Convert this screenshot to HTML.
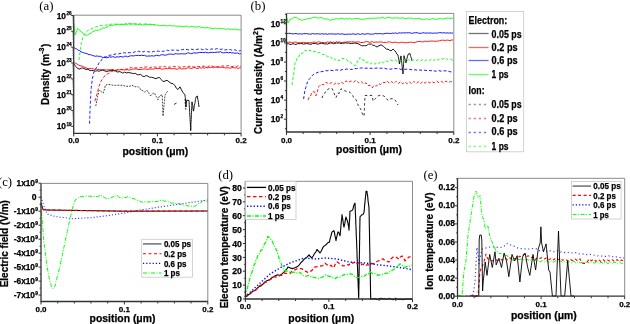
<!DOCTYPE html>
<html><head><meta charset="utf-8"><style>
html,body{margin:0;padding:0;background:#fff;}
svg{display:block;filter:blur(0.3px);} text{stroke:#000;stroke-width:0.25px;} text.s{stroke:none;}
</style></head><body>
<svg width="630" height="324" viewBox="0 0 630 324">
<rect width="630" height="324" fill="#fff"/>

<text class="s" x="46.3" y="10.3" font-family="Liberation Serif" font-size="12.8" font-weight="normal" text-anchor="middle" >(a)</text>
<path d="M73.7,23.0 L73.9,24.4 L74.1,25.5 L74.3,27.9 L74.5,28.8 L74.6,30.4 L74.8,31.8 L75.0,33.7 L75.2,34.8 L75.8,33.1 L76.3,31.8 L76.9,30.4 L77.4,28.4 L78.8,29.7 L80.2,30.4 L81.3,32.1 L82.5,32.4 L83.7,34.4 L84.8,35.0 L87.6,35.1 L89.2,33.8 L90.8,33.5 L92.4,32.0 L94.0,31.2 L95.4,30.4 L96.9,30.2 L98.3,30.3 L99.8,29.8 L101.2,29.1 L102.7,27.8 L104.1,28.3 L105.6,27.7 L107.0,27.1 L108.6,26.0 L110.2,25.5 L111.8,25.3 L113.4,25.3 L115.0,24.6 L116.5,24.7 L118.0,24.1 L119.5,24.4 L121.0,24.5 L122.5,24.6 L124.0,24.5 L125.5,23.9 L127.0,24.5 L128.5,23.8 L130.0,24.3 L131.6,24.1 L133.1,23.8 L134.7,24.3 L136.2,24.3 L137.8,24.8 L139.4,23.9 L140.9,24.1 L142.5,25.0 L144.1,24.9 L145.6,24.3 L147.2,24.4 L148.8,24.8 L150.3,24.5 L151.9,24.7 L153.4,24.5 L155.0,25.2 L156.5,24.7 L158.1,25.6 L159.6,25.7 L161.2,25.6 L162.7,25.7 L164.2,25.3 L165.8,25.7 L167.3,25.9 L168.8,25.7 L170.4,25.3 L171.9,26.0 L173.5,25.7 L175.0,26.1 L176.5,26.0 L178.1,26.6 L179.6,25.9 L181.2,26.6 L182.7,26.6 L184.2,26.5 L185.8,26.1 L187.3,26.3 L188.8,27.2 L190.4,26.5 L191.9,26.5 L193.5,26.7 L195.0,27.0 L196.5,27.1 L198.0,26.7 L199.5,26.8 L201.0,27.4 L202.5,27.2 L204.0,27.7 L205.5,28.0 L207.0,27.4 L208.5,27.9 L210.0,27.9 L211.5,28.4 L213.0,28.7 L214.5,28.2 L216.0,28.1 L217.5,28.9 L219.0,28.1 L220.6,28.5 L222.1,28.7 L223.7,28.6 L225.3,29.2 L226.9,29.1 L228.4,28.9 L230.0,29.2 L231.6,29.6 L233.1,29.3 L234.7,29.2 L236.3,29.7 L237.9,29.5 L239.4,30.0 L241.0,30.0" fill="none" stroke="#00ff00" stroke-width="0.9" stroke-linejoin="round" opacity="1.0"/>
<path d="M79.0,60.0 L79.2,58.3 L79.4,56.7 L79.6,55.8 L79.8,53.9 L80.0,52.3 L80.2,51.0 L80.4,49.7 L80.6,48.1 L80.8,46.7 L81.0,44.8 L81.3,43.4 L81.7,41.9 L82.0,40.5 L82.3,39.1 L82.7,37.6 L83.0,35.7 L84.0,34.7 L85.0,33.8 L86.0,32.0 L87.0,31.4 L88.0,30.1 L89.5,29.4 L91.0,28.9 L92.5,28.2 L94.0,28.0 L95.5,27.2 L97.0,26.5 L98.5,25.8 L100.0,25.5 L101.7,25.7 L103.3,25.3 L105.0,25.1 L106.7,25.1 L108.3,24.2 L110.0,24.5 L111.5,24.1 L113.1,24.2 L114.6,24.0 L116.2,24.1 L117.7,24.5 L119.2,24.3 L120.8,24.4 L122.3,23.7 L123.8,23.8 L125.4,24.2 L126.9,23.5 L128.5,23.6 L130.0,23.5 L131.6,24.1 L133.1,23.7 L134.7,23.9 L136.2,23.6 L137.8,23.7 L139.4,24.1 L140.9,24.4 L142.5,24.1 L144.1,24.1 L145.6,23.9 L147.2,24.0 L148.8,24.1 L150.3,24.2 L151.9,24.6 L153.4,24.4 L155.0,24.6" fill="none" stroke="#00ff00" stroke-width="0.9" stroke-dasharray="3,2" stroke-linejoin="round" opacity="1.0"/>
<path d="M73.7,47.2 L75.2,48.6 L76.6,48.8 L78.1,50.3 L79.5,50.5 L81.0,51.8 L82.6,52.4 L84.2,53.0 L85.8,53.3 L87.4,53.9 L89.0,54.7 L90.6,54.6 L92.2,55.5 L93.8,55.8 L95.4,56.3 L97.0,55.9 L98.6,56.4 L100.2,56.2 L101.8,57.1 L103.4,57.5 L105.0,57.3 L106.5,57.7 L108.0,57.5 L109.5,56.8 L111.0,57.2 L112.5,56.7 L114.0,57.0 L115.5,57.4 L117.0,56.7 L118.5,57.1 L120.0,56.6 L121.5,56.5 L123.1,57.2 L124.6,56.3 L126.2,56.2 L127.7,56.9 L129.2,56.1 L130.8,55.9 L132.3,55.7 L133.8,56.0 L135.4,55.4 L136.9,55.5 L138.5,55.3 L140.0,55.7 L141.5,55.2 L143.0,55.6 L144.5,55.3 L146.0,56.1 L147.5,56.1 L149.0,56.0 L150.5,56.0 L152.0,55.7 L153.5,56.1 L155.0,55.8 L156.5,55.2 L158.1,55.7 L159.6,55.7 L161.2,54.7 L162.7,54.7 L164.2,55.2 L165.8,55.1 L167.3,54.7 L168.8,54.1 L170.4,54.2 L171.9,54.0 L173.5,54.6 L175.0,53.7 L176.5,53.8 L178.1,54.0 L179.6,53.9 L181.2,53.8 L182.7,53.8 L184.2,53.9 L185.8,53.9 L187.3,53.0 L188.8,52.8 L190.4,53.6 L191.9,53.6 L193.5,52.9 L195.0,52.9 L196.5,53.1 L198.0,52.8 L199.5,52.4 L201.0,52.5 L202.5,52.5 L204.0,52.7 L205.5,52.2 L207.0,52.7 L208.5,52.9 L210.0,52.3 L211.5,52.4 L213.0,52.4 L214.5,52.5 L216.0,52.3 L217.5,52.1 L219.0,52.2 L220.6,51.6 L222.1,52.7 L223.7,52.8 L225.3,52.7 L226.9,52.3 L228.4,52.9 L230.0,52.4 L231.6,52.9 L233.1,52.8 L234.7,53.3 L236.3,53.1 L237.9,53.0 L239.4,53.9 L241.0,53.7" fill="none" stroke="#0000ff" stroke-width="0.9" stroke-linejoin="round" opacity="1.0"/>
<path d="M89.6,123.7 L89.6,121.9 L89.7,120.7 L89.7,118.6 L89.8,117.7 L89.8,116.4 L89.9,114.9 L89.9,112.9 L90.0,111.2 L90.0,110.1 L90.1,108.3 L90.2,106.7 L90.2,105.1 L90.3,103.7 L90.4,102.5 L90.5,100.7 L90.5,99.4 L90.6,97.9 L90.7,96.5 L90.8,94.7 L90.8,93.6 L90.9,91.5 L91.0,90.0 L91.2,88.7 L91.3,87.5 L91.5,85.7 L91.7,84.4 L91.9,82.2 L92.1,80.9 L92.2,79.7 L92.4,78.2 L92.8,76.8 L93.2,74.8 L93.6,73.3 L94.0,71.9 L94.8,70.5 L95.6,68.7 L96.4,67.6 L97.2,66.4 L98.0,65.1 L98.8,63.2 L99.6,62.1 L100.8,61.1 L101.9,59.4 L103.1,58.1 L104.3,57.1 L105.8,56.9 L107.4,56.5 L108.9,55.4 L110.4,55.1 L112.0,55.2 L113.5,54.6 L115.0,54.1 L116.7,54.0 L118.3,54.0 L120.0,53.5 L121.5,53.2 L123.1,53.1 L124.6,52.7 L126.2,53.2 L127.7,52.6 L129.2,52.8 L130.8,52.5 L132.3,52.7 L133.8,52.4 L135.4,51.6 L136.9,51.8 L138.5,51.2 L140.0,51.8 L141.5,51.3 L143.0,52.0 L144.5,51.3 L146.0,51.6 L147.5,51.6 L149.0,51.9 L150.5,51.7 L152.0,52.0 L153.5,51.5 L155.0,51.3 L156.5,51.3 L158.1,51.0 L159.6,51.5 L161.2,51.4 L162.7,51.3 L164.2,51.2 L165.8,50.4 L167.3,50.2 L168.8,50.7 L170.4,49.9 L171.9,50.1 L173.5,50.2 L175.0,50.2 L176.5,50.1 L178.1,50.4 L179.6,50.4 L181.2,49.7 L182.7,49.6 L184.2,49.3 L185.8,49.4 L187.3,49.6 L188.8,49.8 L190.4,49.4 L191.9,49.2 L193.5,49.7 L195.0,49.7 L196.5,49.5 L198.1,49.1 L199.6,49.1 L201.2,49.1 L202.7,49.7 L204.2,49.7 L205.8,48.8 L207.3,49.6 L208.8,49.6 L210.4,49.4 L211.9,48.8 L213.5,49.5 L215.0,49.3 L216.5,48.7 L218.1,48.7 L219.6,49.1 L221.1,49.4 L222.6,49.0 L224.2,50.0 L225.7,49.8 L227.2,49.7 L228.8,49.8 L230.3,49.5 L231.8,50.2 L233.4,50.3 L234.9,49.7 L236.4,50.5 L237.9,50.2 L239.5,50.8 L241.0,50.5" fill="none" stroke="#0000ff" stroke-width="0.9" stroke-dasharray="3,2" stroke-linejoin="round" opacity="1.0"/>
<path d="M73.7,62.5 L75.3,63.2 L76.8,63.9 L78.4,64.8 L80.0,65.8 L81.7,66.0 L83.3,66.6 L85.0,67.5 L86.7,68.1 L88.3,68.6 L90.0,68.6 L91.5,68.5 L93.1,68.7 L94.6,69.7 L96.2,68.9 L97.7,69.6 L99.2,69.5 L100.8,69.7 L102.3,70.1 L103.8,69.4 L105.4,70.0 L106.9,69.9 L108.5,69.8 L110.0,69.9 L111.5,69.6 L113.1,69.4 L114.6,70.4 L116.2,70.0 L117.7,69.4 L119.2,70.1 L120.8,69.4 L122.3,69.9 L123.8,69.8 L125.4,70.0 L126.9,69.5 L128.5,70.1 L130.0,69.8 L131.5,69.4 L133.0,69.0 L134.5,69.1 L136.0,68.9 L137.5,69.3 L139.0,69.6 L140.5,69.5 L142.0,69.3 L143.5,69.1 L145.0,68.8 L146.5,69.4 L148.0,69.2 L149.5,69.2 L151.0,69.0 L152.5,69.2 L154.0,69.0 L155.5,68.5 L157.0,68.6 L158.5,68.5 L160.0,68.5 L161.5,69.2 L163.0,69.0 L164.5,68.8 L166.0,68.6 L167.5,68.7 L169.0,68.2 L170.5,68.7 L172.0,68.8 L173.5,68.5 L175.0,68.7 L176.5,69.2 L178.1,69.1 L179.6,68.0 L181.2,69.0 L182.7,68.8 L184.2,68.8 L185.8,68.7 L187.3,67.9 L188.8,67.8 L190.4,68.3 L191.9,68.5 L193.5,67.6 L195.0,67.4 L196.5,68.5 L198.1,68.4 L199.6,67.6 L201.2,68.2 L202.7,67.6 L204.2,68.2 L205.8,67.1 L207.3,67.8 L208.8,67.3 L210.4,67.8 L211.9,67.0 L213.5,67.7 L215.0,67.0 L216.5,67.5 L218.1,67.0 L219.6,67.4 L221.1,67.2 L222.6,67.4 L224.2,67.6 L225.7,67.9 L227.2,67.9 L228.8,67.8 L230.3,68.2 L231.8,67.7 L233.4,67.4 L234.9,68.1 L236.4,67.7 L237.9,68.5 L239.5,67.8 L241.0,68.0" fill="none" stroke="#ff0000" stroke-width="0.9" stroke-linejoin="round" opacity="1.0"/>
<path d="M95.0,101.0 L95.4,98.8 L95.9,97.7 L96.3,96.8 L96.7,94.7 L97.1,93.5 L97.6,91.4 L98.0,90.1 L98.5,88.0 L99.0,86.6 L99.5,85.0 L100.0,83.9 L100.5,82.3 L101.0,81.1 L102.0,79.9 L103.0,78.2 L104.0,77.0 L105.0,75.4 L106.2,74.5 L107.5,73.9 L108.8,73.5 L110.0,71.6 L111.5,71.6 L113.1,70.8 L114.6,71.2 L116.2,70.7 L117.7,70.3 L119.2,70.0 L120.8,69.6 L122.3,69.4 L123.8,68.9 L125.4,69.2 L126.9,69.1 L128.5,68.8 L130.0,67.8 L131.5,67.4 L133.0,68.2 L134.5,67.8 L136.0,67.9 L137.5,67.9 L139.0,68.1 L140.5,67.7 L142.0,67.5 L143.5,67.1 L145.0,67.0 L146.5,67.0 L148.0,67.0 L149.5,67.9 L151.0,67.4 L152.5,66.7 L154.0,67.0 L155.5,67.0 L157.0,67.5 L158.5,66.9 L160.0,67.1 L161.5,66.7 L163.1,66.7 L164.6,66.4 L166.2,67.3 L167.7,66.9 L169.2,67.2 L170.8,67.0 L172.3,66.4 L173.8,66.5 L175.4,66.6 L176.9,67.1 L178.5,66.6 L180.0,67.3 L181.5,67.1 L183.1,66.9 L184.6,66.7 L186.2,66.9 L187.7,66.5 L189.2,66.2 L190.8,67.0 L192.3,66.5 L193.8,67.1 L195.4,66.8 L196.9,66.6 L198.5,66.4 L200.0,66.7 L201.5,66.2 L203.0,66.3 L204.6,66.2 L206.1,66.8 L207.6,66.9 L209.1,65.9 L210.6,65.8 L212.1,66.2 L213.7,66.6 L215.2,66.2 L216.7,66.6 L218.2,66.8 L219.7,66.5 L221.3,66.4 L222.8,65.8 L224.3,66.3 L225.8,66.3 L227.3,65.8 L228.9,65.6 L230.4,66.3 L231.9,66.7 L233.4,66.3 L234.9,65.7 L236.4,66.5 L238.0,65.8 L239.5,65.8 L241.0,66.0" fill="none" stroke="#ff0000" stroke-width="0.9" stroke-dasharray="3,2" stroke-linejoin="round" opacity="1.0"/>
<path d="M73.7,63.7 L75.1,65.7 L76.6,67.1 L78.0,68.8 L80.0,69.0 L82.0,67.8 L84.0,68.5 L86.0,69.5 L88.0,69.2 L90.0,70.6 L91.8,70.5 L93.6,70.6 L95.5,71.1 L97.3,70.7 L99.1,71.3 L100.9,70.5 L102.7,70.0 L104.5,70.8 L106.4,71.6 L108.2,71.1 L110.0,70.7 L111.8,70.5 L113.6,70.7 L115.5,70.9 L117.3,72.1 L119.1,71.6 L120.9,72.0 L122.7,73.1 L124.5,72.2 L126.4,72.9 L128.2,72.5 L130.0,72.8 L131.8,73.2 L133.6,73.6 L135.3,73.3 L137.1,74.6 L138.9,74.8 L140.7,74.3 L142.4,76.2 L144.2,76.5 L146.0,75.6 L147.8,76.1 L149.6,77.3 L151.4,77.2 L153.2,77.7 L155.0,78.5 L157.0,78.3 L159.0,77.2 L161.0,79.3 L163.0,81.6 L165.0,81.0 L167.0,80.3 L169.0,81.8 L171.0,83.3 L173.0,83.6 L175.0,85.8 L176.5,88.4 L178.0,89.5 L180.0,86.8 L181.5,90.0 L183.0,92.5 L185.0,94.9 L185.1,96.3 L185.3,97.6 L185.4,98.7 L185.6,101.8 L185.7,104.0 L185.9,105.2 L186.0,107.1 L186.2,103.9 L186.5,102.0 L186.7,100.2 L189.0,100.5 L189.1,101.6 L189.2,104.3 L189.3,105.8 L189.4,107.6 L189.5,108.8 L189.6,111.6 L189.7,112.5 L189.8,114.9 L190.0,117.6 L190.1,119.4 L190.2,121.4 L190.3,121.9 L190.4,125.1 L190.5,126.2 L190.6,127.5 L190.7,130.7 L190.8,129.0 L190.9,127.2 L190.9,124.3 L191.0,122.3 L191.1,121.7 L191.2,119.5 L191.3,118.1 L191.3,115.9 L191.4,114.6 L191.5,112.3 L191.6,110.6 L191.7,109.0 L191.8,106.3 L191.8,105.4 L191.9,102.7 L192.0,101.8 L192.2,102.9 L192.5,104.9 L192.8,105.6 L193.0,108.0 L193.2,109.8 L193.5,111.1 L193.8,109.7 L194.1,107.6 L194.4,105.3 L194.8,103.6 L195.1,102.6 L195.4,99.5 L195.7,98.4 L196.0,96.9 L197.5,96.1 L197.8,99.4 L198.1,100.3 L198.4,102.4 L198.7,104.7 L199.0,107.0" fill="none" stroke="#000000" stroke-width="0.9" stroke-linejoin="round" opacity="1.0"/>
<path d="M95.6,106.0 L95.9,105.3 L96.3,103.6 L96.6,100.5 L97.0,100.3 L97.3,97.3 L97.6,96.3 L98.0,96.0 L98.3,94.2 L98.7,91.1 L99.0,90.4 L100.4,90.8 L101.8,92.1 L103.2,93.1 L103.7,90.9 L104.2,90.1 L104.8,88.4 L105.3,85.3 L107.1,84.7 L109.0,84.5 L110.8,84.7 L112.5,85.1 L114.2,85.5 L115.8,85.3 L117.5,85.2 L119.2,85.2 L120.8,85.4 L122.3,85.1 L123.9,85.7 L125.4,86.2 L127.0,86.3 L128.6,86.2 L130.1,86.2 L131.7,85.1 L133.4,86.0 L135.1,86.7 L136.9,86.7 L138.6,86.9 L140.0,88.4 L141.4,90.5 L142.8,90.5 L144.6,92.1 L146.5,90.5 L148.3,91.5 L149.2,93.7 L150.1,95.4 L151.0,95.5 L152.0,94.6 L153.0,93.3 L154.0,93.1 L154.8,93.6 L155.6,95.6 L156.4,96.8 L157.2,97.8 L158.0,99.7 L158.7,97.8 L159.4,96.0 L162.2,94.7 L162.3,95.7 L162.3,97.8 L162.4,100.1 L162.4,100.3 L162.5,102.9 L162.6,103.4 L162.6,106.7 L162.7,106.9 L162.8,109.1 L162.8,109.8 L162.9,112.3 L162.9,114.3 L163.0,116.1 L163.2,114.4 L163.3,113.1 L163.5,109.8 L163.6,109.9 L163.8,106.9 L163.9,107.0 L164.1,105.8 L164.2,103.7 L164.4,102.0 L164.5,100.8 L164.7,98.0 L164.8,98.0 L165.0,95.0 L165.7,93.9 L166.4,92.6 L167.1,92.1 L167.8,90.3" fill="none" stroke="#000000" stroke-width="0.75" stroke-dasharray="1.8,1.2" stroke-linejoin="round" opacity="1.0"/>
<path d="M174.0,104.5 L176.5,103.0" fill="none" stroke="#000000" stroke-width="0.8" stroke-linejoin="round" opacity="1.0"/>
<path d="M185.0,99.0 L185.3,104.0 L185.5,106.0 L185.8,110.0" fill="none" stroke="#000000" stroke-width="0.75" stroke-dasharray="1.8,1.2" stroke-linejoin="round" opacity="1.0"/>
<path d="M73.7,15.2 H241.1 V133.4" fill="none" stroke="#8a8a8a" stroke-width="1"/>
<path d="M73.7,15.2 V133.4 H241.1" fill="none" stroke="#333" stroke-width="1.3"/>
<path d="M71.2,126.4 H73.7" stroke="#333" stroke-width="1"/>
<text x="66" y="129.4" font-family="Liberation Sans" font-size="8.4" font-weight="bold" text-anchor="end">10</text>
<text x="66.4" y="125.5" font-family="Liberation Sans" font-size="4.6" font-weight="bold">19</text>
<path d="M72.4,121.6 H73.7" stroke="#555" stroke-width="0.6"/>
<path d="M72.4,118.8 H73.7" stroke="#555" stroke-width="0.6"/>
<path d="M72.4,116.8 H73.7" stroke="#555" stroke-width="0.6"/>
<path d="M72.4,115.3 H73.7" stroke="#555" stroke-width="0.6"/>
<path d="M72.4,114.1 H73.7" stroke="#555" stroke-width="0.6"/>
<path d="M72.4,113.0 H73.7" stroke="#555" stroke-width="0.6"/>
<path d="M72.4,112.1 H73.7" stroke="#555" stroke-width="0.6"/>
<path d="M72.4,111.3 H73.7" stroke="#555" stroke-width="0.6"/>
<path d="M71.2,110.5 H73.7" stroke="#333" stroke-width="1"/>
<text x="66" y="113.5" font-family="Liberation Sans" font-size="8.4" font-weight="bold" text-anchor="end">10</text>
<text x="66.4" y="109.6" font-family="Liberation Sans" font-size="4.6" font-weight="bold">20</text>
<path d="M72.4,105.8 H73.7" stroke="#555" stroke-width="0.6"/>
<path d="M72.4,103.0 H73.7" stroke="#555" stroke-width="0.6"/>
<path d="M72.4,101.0 H73.7" stroke="#555" stroke-width="0.6"/>
<path d="M72.4,99.5 H73.7" stroke="#555" stroke-width="0.6"/>
<path d="M72.4,98.2 H73.7" stroke="#555" stroke-width="0.6"/>
<path d="M72.4,97.2 H73.7" stroke="#555" stroke-width="0.6"/>
<path d="M72.4,96.2 H73.7" stroke="#555" stroke-width="0.6"/>
<path d="M72.4,95.4 H73.7" stroke="#555" stroke-width="0.6"/>
<path d="M71.2,94.7 H73.7" stroke="#333" stroke-width="1"/>
<text x="66" y="97.7" font-family="Liberation Sans" font-size="8.4" font-weight="bold" text-anchor="end">10</text>
<text x="66.4" y="93.8" font-family="Liberation Sans" font-size="4.6" font-weight="bold">21</text>
<path d="M72.4,89.9 H73.7" stroke="#555" stroke-width="0.6"/>
<path d="M72.4,87.1 H73.7" stroke="#555" stroke-width="0.6"/>
<path d="M72.4,85.2 H73.7" stroke="#555" stroke-width="0.6"/>
<path d="M72.4,83.6 H73.7" stroke="#555" stroke-width="0.6"/>
<path d="M72.4,82.4 H73.7" stroke="#555" stroke-width="0.6"/>
<path d="M72.4,81.3 H73.7" stroke="#555" stroke-width="0.6"/>
<path d="M72.4,80.4 H73.7" stroke="#555" stroke-width="0.6"/>
<path d="M72.4,79.6 H73.7" stroke="#555" stroke-width="0.6"/>
<path d="M71.2,78.9 H73.7" stroke="#333" stroke-width="1"/>
<text x="66" y="81.9" font-family="Liberation Sans" font-size="8.4" font-weight="bold" text-anchor="end">10</text>
<text x="66.4" y="78.0" font-family="Liberation Sans" font-size="4.6" font-weight="bold">22</text>
<path d="M72.4,74.1 H73.7" stroke="#555" stroke-width="0.6"/>
<path d="M72.4,71.3 H73.7" stroke="#555" stroke-width="0.6"/>
<path d="M72.4,69.3 H73.7" stroke="#555" stroke-width="0.6"/>
<path d="M72.4,67.8 H73.7" stroke="#555" stroke-width="0.6"/>
<path d="M72.4,66.5 H73.7" stroke="#555" stroke-width="0.6"/>
<path d="M72.4,65.5 H73.7" stroke="#555" stroke-width="0.6"/>
<path d="M72.4,64.6 H73.7" stroke="#555" stroke-width="0.6"/>
<path d="M72.4,63.7 H73.7" stroke="#555" stroke-width="0.6"/>
<path d="M71.2,63.0 H73.7" stroke="#333" stroke-width="1"/>
<text x="66" y="66.0" font-family="Liberation Sans" font-size="8.4" font-weight="bold" text-anchor="end">10</text>
<text x="66.4" y="62.1" font-family="Liberation Sans" font-size="4.6" font-weight="bold">23</text>
<path d="M72.4,58.3 H73.7" stroke="#555" stroke-width="0.6"/>
<path d="M72.4,55.5 H73.7" stroke="#555" stroke-width="0.6"/>
<path d="M72.4,53.5 H73.7" stroke="#555" stroke-width="0.6"/>
<path d="M72.4,51.9 H73.7" stroke="#555" stroke-width="0.6"/>
<path d="M72.4,50.7 H73.7" stroke="#555" stroke-width="0.6"/>
<path d="M72.4,49.6 H73.7" stroke="#555" stroke-width="0.6"/>
<path d="M72.4,48.7 H73.7" stroke="#555" stroke-width="0.6"/>
<path d="M72.4,47.9 H73.7" stroke="#555" stroke-width="0.6"/>
<path d="M71.2,47.2 H73.7" stroke="#333" stroke-width="1"/>
<text x="66" y="50.2" font-family="Liberation Sans" font-size="8.4" font-weight="bold" text-anchor="end">10</text>
<text x="66.4" y="46.3" font-family="Liberation Sans" font-size="4.6" font-weight="bold">24</text>
<path d="M72.4,42.4 H73.7" stroke="#555" stroke-width="0.6"/>
<path d="M72.4,39.6 H73.7" stroke="#555" stroke-width="0.6"/>
<path d="M72.4,37.6 H73.7" stroke="#555" stroke-width="0.6"/>
<path d="M72.4,36.1 H73.7" stroke="#555" stroke-width="0.6"/>
<path d="M72.4,34.9 H73.7" stroke="#555" stroke-width="0.6"/>
<path d="M72.4,33.8 H73.7" stroke="#555" stroke-width="0.6"/>
<path d="M72.4,32.9 H73.7" stroke="#555" stroke-width="0.6"/>
<path d="M72.4,32.1 H73.7" stroke="#555" stroke-width="0.6"/>
<path d="M71.2,31.3 H73.7" stroke="#333" stroke-width="1"/>
<text x="66" y="34.3" font-family="Liberation Sans" font-size="8.4" font-weight="bold" text-anchor="end">10</text>
<text x="66.4" y="30.4" font-family="Liberation Sans" font-size="4.6" font-weight="bold">25</text>
<path d="M72.4,26.6 H73.7" stroke="#555" stroke-width="0.6"/>
<path d="M72.4,23.8 H73.7" stroke="#555" stroke-width="0.6"/>
<path d="M72.4,21.8 H73.7" stroke="#555" stroke-width="0.6"/>
<path d="M72.4,20.3 H73.7" stroke="#555" stroke-width="0.6"/>
<path d="M72.4,19.0 H73.7" stroke="#555" stroke-width="0.6"/>
<path d="M72.4,18.0 H73.7" stroke="#555" stroke-width="0.6"/>
<path d="M72.4,17.0 H73.7" stroke="#555" stroke-width="0.6"/>
<path d="M72.4,16.2 H73.7" stroke="#555" stroke-width="0.6"/>
<path d="M71.2,15.5 H73.7" stroke="#333" stroke-width="1"/>
<text x="66" y="18.5" font-family="Liberation Sans" font-size="8.4" font-weight="bold" text-anchor="end">10</text>
<text x="66.4" y="14.6" font-family="Liberation Sans" font-size="4.6" font-weight="bold">26</text>
<path d="M73.7,133.4 V136.4" stroke="#333" stroke-width="1"/>
<path d="M90.4,133.4 V135.4" stroke="#333" stroke-width="1"/>
<path d="M107.2,133.4 V135.4" stroke="#333" stroke-width="1"/>
<path d="M123.9,133.4 V135.4" stroke="#333" stroke-width="1"/>
<path d="M140.7,133.4 V135.4" stroke="#333" stroke-width="1"/>
<path d="M157.4,133.4 V136.4" stroke="#333" stroke-width="1"/>
<path d="M174.1,133.4 V135.4" stroke="#333" stroke-width="1"/>
<path d="M190.9,133.4 V135.4" stroke="#333" stroke-width="1"/>
<path d="M207.6,133.4 V135.4" stroke="#333" stroke-width="1"/>
<path d="M224.4,133.4 V135.4" stroke="#333" stroke-width="1"/>
<path d="M241.1,133.4 V136.4" stroke="#333" stroke-width="1"/>
<text x="73.7" y="143" font-family="Liberation Sans" font-size="8" font-weight="bold" text-anchor="middle" >0.0</text>
<text x="157.4" y="143" font-family="Liberation Sans" font-size="8" font-weight="bold" text-anchor="middle" >0.1</text>
<text x="241.1" y="143" font-family="Liberation Sans" font-size="8" font-weight="bold" text-anchor="middle" >0.2</text>
<text transform="translate(48.5,74.3) rotate(-90)" font-family="Liberation Sans" font-size="10" font-weight="bold" text-anchor="middle">Density (m<tspan dy="-4.5" font-size="7">-3</tspan><tspan dy="4.5" dx="0.6">)</tspan></text>
<text x="155.4" y="154.9" font-family="Liberation Sans" font-size="10.4" font-weight="bold" text-anchor="middle" >position (μm)</text>
<text class="s" x="258" y="9.8" font-family="Liberation Serif" font-size="12.8" font-weight="normal" text-anchor="middle" >(b)</text>
<path d="M287.0,18.0 L287.3,19.5 L287.7,21.2 L288.0,23.0 L289.0,21.3 L290.0,19.4 L291.7,18.9 L293.3,17.8 L295.0,17.1 L296.4,17.7 L297.8,18.3 L299.2,19.6 L300.6,19.3 L302.0,20.7 L303.6,19.3 L305.2,19.7 L306.8,18.7 L308.4,18.7 L310.0,18.3 L311.7,18.1 L313.3,17.4 L315.0,17.2 L316.7,17.6 L318.3,18.2 L320.0,17.6 L321.7,17.7 L323.3,18.4 L325.0,19.2 L326.7,18.8 L328.3,19.1 L330.0,20.5 L331.7,19.6 L333.3,19.4 L335.0,19.0 L336.7,18.6 L338.3,19.1 L340.0,18.8 L341.6,18.1 L343.1,18.7 L344.7,19.0 L346.2,18.5 L347.8,19.2 L349.4,18.1 L350.9,19.1 L352.5,19.1 L354.1,18.4 L355.6,18.5 L357.2,18.5 L358.8,18.4 L360.3,19.3 L361.9,19.2 L363.4,19.3 L365.0,19.2 L366.5,18.6 L368.0,18.3 L369.5,18.4 L371.0,19.0 L372.5,18.0 L374.0,18.5 L375.5,18.2 L377.0,18.0 L378.5,18.0 L380.0,18.2 L381.5,17.6 L383.0,17.5 L384.5,18.3 L386.0,18.1 L387.5,17.5 L389.0,17.3 L390.5,17.8 L392.0,18.2 L393.5,18.1 L395.0,17.8 L396.5,18.1 L398.0,17.8 L399.5,18.3 L401.0,18.1 L402.5,17.6 L404.0,18.4 L405.5,18.7 L407.0,18.3 L408.5,18.0 L410.0,18.2 L411.5,18.1 L413.0,18.9 L414.5,18.9 L416.0,18.4 L417.5,18.5 L419.0,18.3 L420.5,18.8 L422.0,19.5 L423.5,19.2 L425.0,19.5 L426.6,18.5 L428.1,19.4 L429.7,19.4 L431.2,19.2 L432.8,18.4 L434.3,19.2 L435.9,19.3 L437.4,19.0 L439.0,18.7 L440.6,18.5 L442.1,19.1 L443.7,18.7 L445.2,18.4 L446.8,18.0 L448.3,17.9 L449.9,18.7 L451.4,18.2 L453.0,18.4" fill="none" stroke="#00ff00" stroke-width="0.9" stroke-linejoin="round" opacity="1.0"/>
<path d="M287.0,33.6 L288.5,33.3 L290.0,33.5 L291.5,33.6 L293.0,34.0 L294.5,33.7 L296.0,33.4 L297.5,34.0 L299.0,33.9 L300.5,33.8 L302.0,34.1 L303.5,33.7 L305.0,33.7 L306.5,33.5 L308.0,34.0 L309.5,34.0 L311.0,34.2 L312.5,33.5 L314.0,33.9 L315.5,33.9 L317.0,33.9 L318.5,33.6 L320.0,34.3 L321.5,33.6 L323.0,34.1 L324.5,33.9 L326.0,33.9 L327.5,34.3 L329.0,33.8 L330.5,34.0 L332.0,33.8 L333.5,34.1 L335.0,34.0 L336.5,34.1 L338.0,33.7 L339.5,34.1 L341.0,34.1 L342.5,33.7 L344.0,34.4 L345.5,34.3 L347.0,34.2 L348.5,34.2 L350.0,34.0 L351.5,34.3 L353.0,33.7 L354.5,34.2 L356.0,34.4 L357.5,33.7 L359.0,34.1 L360.5,34.4 L362.0,33.7 L363.5,34.0 L365.0,34.3 L366.5,33.8 L368.1,33.7 L369.6,34.1 L371.2,34.1 L372.7,34.2 L374.2,33.9 L375.8,33.4 L377.3,33.9 L378.8,33.5 L380.4,33.7 L381.9,33.8 L383.5,33.9 L385.0,33.5 L386.5,33.2 L388.1,33.4 L389.6,33.4 L391.2,33.5 L392.7,33.1 L394.2,33.3 L395.8,32.9 L397.3,33.6 L398.8,32.8 L400.4,33.1 L401.9,32.8 L403.5,32.9 L405.0,32.9 L406.5,32.8 L408.0,32.8 L409.5,32.8 L411.0,33.0 L412.5,33.4 L414.0,32.8 L415.5,32.7 L417.0,32.6 L418.5,33.3 L420.0,33.2 L421.5,33.3 L423.0,32.7 L424.5,33.0 L426.0,33.1 L427.5,33.0 L429.0,33.2 L430.5,32.8 L432.0,33.3 L433.5,33.1 L435.0,33.1 L436.5,33.1 L438.0,33.0 L439.5,32.6 L441.0,32.7 L442.5,33.0 L444.0,32.7 L445.5,33.1 L447.0,32.8 L448.5,33.1 L450.0,32.9 L451.5,33.1 L453.0,33.0" fill="none" stroke="#0000ff" stroke-width="0.9" stroke-linejoin="round" opacity="1.0"/>
<path d="M287.0,42.5 L288.5,42.3 L290.0,42.1 L291.5,42.6 L293.0,42.8 L294.5,42.2 L296.0,42.0 L297.5,42.8 L299.0,42.7 L300.5,42.7 L302.0,42.7 L303.5,42.3 L305.0,42.8 L306.5,42.7 L308.0,42.6 L309.5,42.8 L311.0,42.8 L312.5,42.4 L314.0,41.9 L315.5,42.4 L317.0,42.3 L318.5,41.8 L320.0,42.1 L321.5,42.6 L323.0,42.4 L324.5,42.7 L326.0,42.5 L327.5,41.9 L329.0,42.4 L330.5,41.8 L332.0,42.6 L333.5,42.0 L335.0,42.7 L336.5,41.7 L338.0,42.4 L339.5,41.8 L341.0,42.5 L342.5,42.5 L344.0,42.1 L345.5,42.2 L347.0,41.8 L348.5,42.0 L350.0,41.7 L351.5,42.0 L353.0,41.7 L354.5,42.2 L356.0,42.1 L357.5,41.9 L359.0,41.9 L360.5,42.5 L362.0,42.5 L363.5,42.5 L365.0,41.9 L366.5,41.6 L368.1,41.7 L369.6,42.4 L371.2,41.9 L372.7,41.7 L374.2,42.6 L375.8,41.9 L377.3,42.2 L378.8,42.1 L380.4,41.8 L381.9,42.1 L383.5,42.5 L385.0,42.3 L386.5,42.6 L388.1,41.8 L389.6,41.9 L391.2,42.3 L392.7,42.5 L394.2,42.3 L395.8,42.2 L397.3,42.7 L398.8,42.8 L400.4,42.6 L401.9,42.1 L403.5,42.7 L405.0,42.6 L406.5,42.7 L408.0,42.6 L409.5,42.3 L411.0,42.1 L412.5,42.4 L414.0,42.5 L415.5,42.4 L417.0,41.7 L418.5,41.5 L420.0,41.4 L421.5,41.8 L423.0,42.0 L424.5,41.2 L426.0,41.4 L427.5,41.4 L429.0,41.2 L430.5,41.2 L432.0,41.0 L433.5,41.1 L435.0,41.4 L436.5,41.1 L438.0,41.2 L439.5,40.6 L441.0,40.3 L442.5,40.2 L444.0,40.2 L445.5,40.7 L447.0,40.0 L448.5,40.3 L450.0,40.6 L451.5,40.0 L453.0,40.0" fill="none" stroke="#ff0000" stroke-width="0.9" stroke-linejoin="round" opacity="1.0"/>
<path d="M287.0,44.0 L288.5,43.7 L290.0,44.4 L291.5,44.4 L293.0,43.5 L294.5,44.3 L296.0,44.4 L297.5,43.7 L299.0,43.7 L300.5,43.6 L302.0,43.6 L303.5,44.1 L305.0,43.8 L306.5,43.6 L308.0,43.7 L309.5,44.2 L311.0,44.3 L312.5,43.6 L314.0,43.5 L315.5,43.5 L317.0,44.0 L318.5,44.1 L320.0,43.4 L321.5,43.3 L323.0,43.5 L324.5,43.9 L326.0,43.9 L327.5,44.0 L329.0,43.4 L330.5,43.0 L332.0,43.0 L333.5,43.7 L335.0,43.3 L336.5,43.0 L338.0,43.1 L339.5,42.9 L341.0,43.7 L342.5,43.2 L344.0,43.2 L345.5,42.9 L347.0,43.2 L348.5,42.9 L350.0,43.6 L351.5,43.5 L353.0,43.3 L354.5,43.1 L356.0,43.2 L358.0,43.6 L360.0,44.9 L361.5,45.6 L363.0,45.8 L364.5,45.6 L366.0,45.9 L367.3,44.9 L368.7,44.0 L370.0,44.2 L371.4,44.0 L372.8,45.3 L374.2,45.4 L375.6,46.3 L377.0,47.0 L379.0,45.7 L381.0,44.8 L382.3,45.6 L383.7,46.5 L385.0,47.9 L386.5,49.1 L388.0,49.2 L389.5,50.2 L391.0,50.9 L393.0,49.0 L394.0,49.9 L395.0,50.9 L396.0,52.4 L397.0,54.3 L398.0,55.1 L398.2,56.5 L398.5,57.8 L398.8,59.7 L399.0,60.6 L399.2,62.6 L399.5,64.0 L399.8,62.0 L400.1,60.8 L400.4,59.0 L400.7,57.1 L401.0,55.9 L401.2,57.2 L401.3,58.6 L401.5,60.7 L401.7,62.1 L401.8,63.4 L402.0,65.2 L402.2,66.9 L402.3,67.9 L402.5,69.5 L402.7,71.4 L402.8,72.3 L403.0,74.0 L403.1,72.5 L403.2,70.9 L403.2,69.6 L403.3,68.3 L403.4,66.9 L403.5,64.9 L403.6,63.3 L403.7,62.3 L403.8,60.7 L403.8,58.8 L403.9,57.4 L404.0,55.7 L404.5,57.8 L405.0,59.2 L405.5,60.8 L406.0,62.8 L406.3,61.1 L406.7,59.8 L407.0,58.3 L407.3,56.8 L407.7,55.9 L408.0,54.3 L410.0,53.5 L410.4,55.6 L410.8,56.6 L411.2,57.6 L411.6,59.5 L412.0,61.0" fill="none" stroke="#000000" stroke-width="0.9" stroke-linejoin="round" opacity="1.0"/>
<path d="M292.0,85.0 L292.4,81.9 L292.8,80.4 L293.2,76.2 L293.6,75.3 L294.0,71.0 L294.2,70.2 L294.5,66.4 L294.8,65.0 L295.0,61.5 L296.2,60.9 L297.5,57.2 L298.8,56.9 L300.0,53.3 L302.5,53.4 L305.0,50.1 L307.5,51.4 L310.0,50.2 L312.5,51.9 L315.0,51.4 L317.5,53.0 L320.0,52.2 L322.5,54.5 L325.0,54.5 L327.5,56.8 L330.0,56.2 L332.0,58.9 L334.0,58.1 L336.0,60.8 L338.0,60.1 L340.0,60.6 L342.0,58.3 L344.0,58.7 L346.0,58.7 L348.0,61.3 L350.0,61.3 L352.5,64.7 L355.0,65.6 L356.2,64.5 L357.5,61.1 L358.8,60.9 L360.0,57.5 L362.0,59.8 L364.0,60.1 L366.0,62.9 L368.2,61.7 L370.4,63.8 L372.6,62.5 L374.8,64.1 L377.0,63.1 L379.0,63.5 L381.0,61.2 L383.4,62.7 L385.8,60.6 L388.2,62.0 L390.6,60.1 L393.0,60.9 L395.2,60.0 L397.5,61.4 L399.8,59.6 L402.0,61.2 L404.2,60.0 L406.5,61.2 L408.8,59.6 L411.0,61.0 L413.3,59.6 L415.7,60.9 L418.0,59.7 L420.3,60.9 L422.7,59.6 L425.0,61.1 L427.2,59.5 L429.4,60.5 L431.7,59.0 L433.9,60.6 L436.1,58.8 L438.3,60.1 L440.6,58.5 L442.8,59.1 L445.0,57.7 L447.7,59.7 L450.3,59.0 L453.0,60.5" fill="none" stroke="#00ff00" stroke-width="0.9" stroke-dasharray="3,2" stroke-linejoin="round" opacity="1.0"/>
<path d="M303.6,99.0 L304.0,96.3 L304.3,94.1 L304.6,92.1 L305.0,90.0 L305.8,87.5 L306.5,85.1 L307.2,82.9 L308.0,80.9 L309.5,78.8 L311.0,77.5 L312.5,75.3 L314.0,74.0 L316.0,73.2 L318.0,72.3 L320.0,71.7 L322.0,71.7 L324.0,71.2 L326.0,70.6 L328.0,70.8 L330.0,70.2 L332.0,70.5 L334.0,70.7 L336.0,69.9 L338.0,70.1 L340.0,70.4 L342.1,69.6 L344.2,69.9 L346.2,69.1 L348.3,69.1 L350.4,69.4 L352.5,69.4 L354.6,68.6 L356.7,68.6 L358.8,68.3 L360.8,68.0 L362.9,68.0 L365.0,68.3 L367.0,68.1 L369.0,68.4 L371.0,68.2 L373.0,68.4 L375.0,68.3 L377.0,68.0 L379.0,68.3 L381.0,68.2 L383.0,68.2 L385.0,68.3 L387.0,69.0 L389.0,69.1 L391.0,69.1 L393.0,68.7 L395.0,68.5 L397.0,68.7 L399.0,68.6 L401.0,69.4 L403.0,69.3 L405.0,69.3 L407.0,69.1 L409.0,69.2 L411.0,69.6 L413.0,69.8 L415.0,69.8 L417.0,70.1 L419.0,69.9 L421.0,70.2 L423.0,70.1 L425.0,70.2 L427.0,70.6 L429.0,70.3 L431.0,70.8 L433.0,70.3 L435.0,71.2 L437.0,71.0 L439.0,70.6 L441.0,71.2 L443.0,70.9 L445.0,70.8 L447.0,71.0 L449.0,71.4 L451.0,72.0 L453.0,71.7" fill="none" stroke="#0000ff" stroke-width="0.9" stroke-dasharray="3,2" stroke-linejoin="round" opacity="1.0"/>
<path d="M308.0,100.0 L309.2,97.0 L310.5,96.4 L311.8,92.4 L313.0,91.7 L314.5,91.9 L316.0,95.8 L316.8,92.2 L317.5,91.7 L318.2,87.1 L319.0,86.6 L321.3,84.1 L323.7,84.8 L326.0,82.0 L328.7,84.1 L331.3,82.6 L334.0,84.6 L336.4,82.4 L338.8,84.2 L341.2,82.0 L343.6,83.6 L346.0,80.9 L348.5,82.5 L351.0,80.9 L353.5,82.3 L356.0,80.1 L358.7,82.9 L361.3,81.7 L364.0,84.2 L366.0,82.8 L368.0,85.7 L370.0,85.3 L372.0,88.0 L374.2,85.4 L376.3,86.2 L378.5,83.6 L380.7,84.5 L382.8,82.2 L385.0,82.7 L387.2,81.0 L389.4,83.4 L391.7,81.7 L393.9,83.5 L396.1,81.3 L398.3,83.7 L400.6,81.5 L402.8,83.9 L405.0,82.1 L407.2,83.8 L409.4,81.9 L411.7,83.8 L413.9,81.4 L416.1,83.3 L418.3,81.8 L420.6,83.8 L422.8,81.4 L425.0,83.2 L427.3,81.4 L429.7,82.9 L432.0,81.7 L434.3,82.8 L436.7,81.1 L439.0,82.8 L441.3,81.4 L443.7,82.9 L446.0,81.0 L448.3,82.6 L450.7,81.5 L453.0,82.0" fill="none" stroke="#ff0000" stroke-width="0.9" stroke-dasharray="3,2" stroke-linejoin="round" opacity="1.0"/>
<path d="M322.0,98.0 L323.3,94.7 L324.7,93.5 L326.0,90.6 L329.0,88.7 L332.0,88.4 L333.3,91.0 L334.7,95.0 L336.0,97.6 L337.7,93.2 L339.3,93.3 L341.0,88.8 L344.5,90.7 L348.0,91.8 L350.0,92.3 L352.0,94.3 L354.0,98.0 L356.0,99.6 L357.1,102.4 L358.3,105.5 L359.4,107.9 L360.6,108.7 L361.7,112.3 L362.9,114.9 L364.0,116.2 L364.1,115.2 L364.2,113.0 L364.4,109.4 L364.5,107.3 L364.6,103.2 L364.8,102.3 L364.9,98.1 L365.0,95.4 L368.5,95.7 L372.0,95.3 L372.5,97.4 L373.0,101.0 L375.3,98.8 L377.7,96.1 L380.0,95.2 L382.7,95.4 L385.3,97.0 L388.0,100.4 L390.7,98.8 L393.3,98.6 L396.0,101.1 L397.0,103.1 L398.0,105.0" fill="none" stroke="#000000" stroke-width="0.8" stroke-dasharray="2.5,2.5" stroke-linejoin="round" opacity="1.0"/>
<path d="M286.5,13.4 H453.8 V132.0" fill="none" stroke="#8a8a8a" stroke-width="1"/>
<path d="M286.5,13.4 V132.0 H453.8" fill="none" stroke="#333" stroke-width="1.3"/>
<path d="M284.9,128.7 H286.5" stroke="#333" stroke-width="1"/>
<path d="M284.0,119.2 H286.5" stroke="#333" stroke-width="1"/>
<text x="280.2" y="122.2" font-family="Liberation Sans" font-size="8.4" font-weight="bold" text-anchor="end">10</text>
<text x="280.6" y="118.3" font-family="Liberation Sans" font-size="4.6" font-weight="bold">2</text>
<path d="M284.9,109.7 H286.5" stroke="#333" stroke-width="1"/>
<path d="M284.0,100.1 H286.5" stroke="#333" stroke-width="1"/>
<text x="280.2" y="103.1" font-family="Liberation Sans" font-size="8.4" font-weight="bold" text-anchor="end">10</text>
<text x="280.6" y="99.2" font-family="Liberation Sans" font-size="4.6" font-weight="bold">4</text>
<path d="M284.9,90.6 H286.5" stroke="#333" stroke-width="1"/>
<path d="M284.0,81.0 H286.5" stroke="#333" stroke-width="1"/>
<text x="280.2" y="84.0" font-family="Liberation Sans" font-size="8.4" font-weight="bold" text-anchor="end">10</text>
<text x="280.6" y="80.1" font-family="Liberation Sans" font-size="4.6" font-weight="bold">6</text>
<path d="M284.9,71.5 H286.5" stroke="#333" stroke-width="1"/>
<path d="M284.0,62.0 H286.5" stroke="#333" stroke-width="1"/>
<text x="280.2" y="65.0" font-family="Liberation Sans" font-size="8.4" font-weight="bold" text-anchor="end">10</text>
<text x="280.6" y="61.1" font-family="Liberation Sans" font-size="4.6" font-weight="bold">8</text>
<path d="M284.9,52.4 H286.5" stroke="#333" stroke-width="1"/>
<path d="M284.0,42.9 H286.5" stroke="#333" stroke-width="1"/>
<text x="280.2" y="45.9" font-family="Liberation Sans" font-size="8.4" font-weight="bold" text-anchor="end">10</text>
<text x="280.6" y="42.0" font-family="Liberation Sans" font-size="4.6" font-weight="bold">10</text>
<path d="M284.9,33.3 H286.5" stroke="#333" stroke-width="1"/>
<path d="M284.0,23.8 H286.5" stroke="#333" stroke-width="1"/>
<text x="280.2" y="26.8" font-family="Liberation Sans" font-size="8.4" font-weight="bold" text-anchor="end">10</text>
<text x="280.6" y="22.9" font-family="Liberation Sans" font-size="4.6" font-weight="bold">12</text>
<path d="M284.9,14.3 H286.5" stroke="#333" stroke-width="1"/>
<path d="M286.5,132.0 V135.0" stroke="#333" stroke-width="1"/>
<path d="M303.2,132.0 V134.0" stroke="#333" stroke-width="1"/>
<path d="M320.0,132.0 V134.0" stroke="#333" stroke-width="1"/>
<path d="M336.7,132.0 V134.0" stroke="#333" stroke-width="1"/>
<path d="M353.4,132.0 V134.0" stroke="#333" stroke-width="1"/>
<path d="M370.1,132.0 V135.0" stroke="#333" stroke-width="1"/>
<path d="M386.9,132.0 V134.0" stroke="#333" stroke-width="1"/>
<path d="M403.6,132.0 V134.0" stroke="#333" stroke-width="1"/>
<path d="M420.3,132.0 V134.0" stroke="#333" stroke-width="1"/>
<path d="M437.1,132.0 V134.0" stroke="#333" stroke-width="1"/>
<path d="M453.8,132.0 V135.0" stroke="#333" stroke-width="1"/>
<text x="286.5" y="142.5" font-family="Liberation Sans" font-size="8" font-weight="bold" text-anchor="middle" >0.0</text>
<text x="370.1" y="142.5" font-family="Liberation Sans" font-size="8" font-weight="bold" text-anchor="middle" >0.1</text>
<text x="453.8" y="142.5" font-family="Liberation Sans" font-size="8" font-weight="bold" text-anchor="middle" >0.2</text>
<text transform="translate(262.0,80.6) rotate(-90)" font-family="Liberation Sans" font-size="10" font-weight="bold" text-anchor="middle">Current density (A/m<tspan dy="-4.5" font-size="7">2</tspan><tspan dy="4.5" dx="0.6">)</tspan></text>
<text x="369" y="153.3" font-family="Liberation Sans" font-size="10.4" font-weight="bold" text-anchor="middle" >position (μm)</text>
<rect x="466.4" y="11.4" width="57.3" height="140.4" fill="#fff" stroke="#c8c8c8" stroke-width="0.8"/>
<text x="468.6" y="23.9" font-family="Liberation Sans" font-size="10.3" font-weight="bold" textLength="38.7" lengthAdjust="spacingAndGlyphs">Electron:</text>
<path d="M468.6,33.5 H488.6" stroke="#444444" stroke-width="1.3" opacity="0.75"/>
<text x="491.6" y="37.6" font-family="Liberation Sans" font-size="10" font-weight="bold" textLength="30.0" lengthAdjust="spacingAndGlyphs">0.05 ps</text>
<path d="M468.6,47.5 H488.6" stroke="#ff0000" stroke-width="1.3" opacity="0.6"/>
<text x="491.6" y="51.0" font-family="Liberation Sans" font-size="10" font-weight="bold" textLength="26.0" lengthAdjust="spacingAndGlyphs">0.2 ps</text>
<path d="M468.6,60.5 H488.6" stroke="#0000ff" stroke-width="1.3" opacity="0.6"/>
<text x="491.6" y="64.4" font-family="Liberation Sans" font-size="10" font-weight="bold" textLength="26.0" lengthAdjust="spacingAndGlyphs">0.6 ps</text>
<path d="M468.6,74.5 H488.6" stroke="#00ff00" stroke-width="1.3" opacity="0.6"/>
<text x="491.6" y="78.1" font-family="Liberation Sans" font-size="10" font-weight="bold" textLength="17.0" lengthAdjust="spacingAndGlyphs">1 ps</text>
<text x="468.6" y="93.9" font-family="Liberation Sans" font-size="10.3" font-weight="bold" textLength="16" lengthAdjust="spacingAndGlyphs">Ion:</text>
<path d="M468.6,104.5 H488.6" stroke="#444444" stroke-width="1.4" stroke-dasharray="2.2,2.9" opacity="0.55"/>
<text x="491.6" y="107.8" font-family="Liberation Sans" font-size="10" font-weight="bold" textLength="30.0" lengthAdjust="spacingAndGlyphs">0.05 ps</text>
<path d="M468.6,118.5 H488.6" stroke="#ff0000" stroke-width="1.4" stroke-dasharray="2.2,2.9" opacity="0.55"/>
<text x="491.6" y="121.5" font-family="Liberation Sans" font-size="10" font-weight="bold" textLength="26.0" lengthAdjust="spacingAndGlyphs">0.2 ps</text>
<path d="M468.6,132.5 H488.6" stroke="#0000ff" stroke-width="1.4" stroke-dasharray="2.2,2.9" opacity="0.55"/>
<text x="491.6" y="135.3" font-family="Liberation Sans" font-size="10" font-weight="bold" textLength="26.0" lengthAdjust="spacingAndGlyphs">0.6 ps</text>
<path d="M468.6,146.5 H488.6" stroke="#00ff00" stroke-width="1.4" stroke-dasharray="2.2,2.9" opacity="0.55"/>
<text x="491.6" y="149.7" font-family="Liberation Sans" font-size="10" font-weight="bold" textLength="17.0" lengthAdjust="spacingAndGlyphs">1 ps</text>
<text class="s" x="5" y="186.3" font-family="Liberation Serif" font-size="12.8" font-weight="normal" text-anchor="middle" >(c)</text>
<path d="M41.0,204.0 L41.1,205.9 L41.3,208.2 L41.4,210.1 L41.6,212.0 L41.7,214.0 L41.9,216.4 L42.0,218.0 L42.2,219.8 L42.3,222.1 L42.5,224.1 L42.7,226.7 L42.8,228.4 L43.0,230.4 L43.2,232.8 L43.3,234.9 L43.5,236.4 L43.7,239.0 L43.8,241.3 L44.0,243.1 L44.3,244.9 L44.5,247.5 L44.8,248.9 L45.1,251.4 L45.4,253.2 L45.6,255.6 L45.9,257.6 L46.2,260.0 L46.5,261.5 L46.7,263.9 L47.0,265.8 L47.4,267.7 L47.7,270.3 L48.1,272.1 L48.4,273.9 L48.8,276.0 L49.1,278.0 L49.5,279.6 L50.2,282.2 L50.8,284.3 L51.5,286.7 L53.0,288.8 L55.0,286.2 L55.5,283.8 L56.0,281.6 L56.5,280.3 L57.0,277.7 L57.5,275.8 L58.0,274.3 L58.5,272.1 L59.0,270.0 L59.5,268.2 L60.0,266.3 L60.4,264.1 L60.8,262.3 L61.2,259.7 L61.7,258.0 L62.1,256.1 L62.5,254.3 L62.9,252.0 L63.3,250.1 L63.8,247.8 L64.2,246.2 L64.6,244.1 L65.0,242.4 L65.4,240.0 L65.9,237.8 L66.3,236.2 L66.8,234.0 L67.2,231.7 L67.6,230.4 L68.1,228.0 L68.5,225.7 L68.9,223.8 L69.4,221.8 L69.8,220.3 L70.2,218.3 L70.7,215.6 L71.1,214.2 L71.6,211.9 L72.0,210.0 L72.6,208.2 L73.2,205.8 L73.8,203.8 L74.4,202.3 L75.0,200.2 L76.7,199.1 L78.3,197.8 L80.0,196.8 L82.2,196.5 L84.4,196.4 L86.6,196.0 L88.8,196.2 L91.0,196.3 L93.0,196.4 L95.0,196.8 L97.0,196.7 L99.0,196.0 L101.0,195.0 L102.7,196.4 L104.3,197.4 L106.0,198.4 L108.5,198.7 L111.0,198.0 L113.0,196.7 L115.0,196.3 L117.0,194.9 L118.5,196.9 L120.0,197.6 L122.0,198.0 L124.0,197.6 L126.0,197.4 L128.0,196.6 L130.0,197.7 L132.0,198.3 L134.0,198.8 L136.0,199.4 L138.0,200.6 L140.0,201.1 L142.0,202.4 L144.0,201.8 L146.0,201.9 L148.0,202.1 L150.0,201.7 L152.0,201.7 L154.0,201.4 L156.0,201.6 L158.0,201.3 L160.0,200.4 L162.0,200.2 L164.0,201.1 L166.0,201.1 L168.0,201.6 L170.0,202.2 L172.0,203.2 L174.0,203.0 L176.0,203.7 L178.0,203.5 L180.0,204.1 L182.0,204.6 L184.0,205.1 L186.0,205.2 L188.0,206.0 L190.0,206.0 L192.0,206.2 L194.0,206.4 L196.0,205.7 L198.0,203.9 L200.0,202.9 L202.0,201.7 L204.0,199.7 L206.0,201.2 L208.0,202.0" fill="none" stroke="#00ff00" stroke-width="1" stroke-dasharray="4,1.5,1,1.5" stroke-linejoin="round" opacity="1.0"/>
<path d="M41.0,197.0 L44.0,206.0 L47.0,214.0 L55.0,216.5 L73.0,218.7 L91.0,217.7 L105.0,216.0 L125.0,213.0 L140.0,210.0 L160.0,207.0 L180.0,204.0 L208.0,200.0" fill="none" stroke="#3333ff" stroke-width="1.1" stroke-dasharray="1.1,2" stroke-linejoin="round" opacity="1.0"/>
<path d="M41.0,203.0 L43.0,209.7 L47.0,210.0 L125.0,211.2 L208.0,211.0" fill="none" stroke="#000000" stroke-width="1" stroke-linejoin="round" opacity="1.0"/>
<path d="M41.0,203.0 L43.0,209.7 L47.0,210.0 L125.0,211.2 L208.0,211.0" fill="none" stroke="#ff0000" stroke-width="1.2" stroke-dasharray="3,2.5" stroke-linejoin="round" opacity="1.0"/>
<path d="M41.0,183.4 H207.8 V301.5" fill="none" stroke="#8a8a8a" stroke-width="1"/>
<path d="M41.0,183.4 V301.5 H207.8" fill="none" stroke="#333" stroke-width="1.3"/>
<path d="M38.5,183.2 H41.0" stroke="#333" stroke-width="1"/>
<path d="M39.5,190.2 H41.0" stroke="#333" stroke-width="0.8"/>
<text x="35.0" y="186.2" font-family="Liberation Sans" font-size="8.3" font-weight="bold" text-anchor="end">1x10</text>
<text x="35.3" y="182.8" font-family="Liberation Sans" font-size="5" font-weight="bold">9</text>
<path d="M38.5,197.2 H41.0" stroke="#333" stroke-width="1"/>
<path d="M39.5,204.2 H41.0" stroke="#333" stroke-width="0.8"/>
<text x="36.6" y="199.5" font-family="Liberation Sans" font-size="8.6" font-weight="bold" text-anchor="end">0</text>
<path d="M38.5,211.2 H41.0" stroke="#333" stroke-width="1"/>
<path d="M39.5,218.2 H41.0" stroke="#333" stroke-width="0.8"/>
<text x="35.0" y="214.2" font-family="Liberation Sans" font-size="8.3" font-weight="bold" text-anchor="end">-1x10</text>
<text x="35.3" y="210.8" font-family="Liberation Sans" font-size="5" font-weight="bold">9</text>
<path d="M38.5,225.2 H41.0" stroke="#333" stroke-width="1"/>
<path d="M39.5,232.2 H41.0" stroke="#333" stroke-width="0.8"/>
<text x="35.0" y="228.2" font-family="Liberation Sans" font-size="8.3" font-weight="bold" text-anchor="end">-2x10</text>
<text x="35.3" y="224.8" font-family="Liberation Sans" font-size="5" font-weight="bold">9</text>
<path d="M38.5,239.2 H41.0" stroke="#333" stroke-width="1"/>
<path d="M39.5,246.2 H41.0" stroke="#333" stroke-width="0.8"/>
<text x="35.0" y="242.2" font-family="Liberation Sans" font-size="8.3" font-weight="bold" text-anchor="end">-3x10</text>
<text x="35.3" y="238.8" font-family="Liberation Sans" font-size="5" font-weight="bold">9</text>
<path d="M38.5,253.2 H41.0" stroke="#333" stroke-width="1"/>
<path d="M39.5,260.2 H41.0" stroke="#333" stroke-width="0.8"/>
<text x="35.0" y="256.2" font-family="Liberation Sans" font-size="8.3" font-weight="bold" text-anchor="end">-4x10</text>
<text x="35.3" y="252.8" font-family="Liberation Sans" font-size="5" font-weight="bold">9</text>
<path d="M38.5,267.1 H41.0" stroke="#333" stroke-width="1"/>
<path d="M39.5,274.1 H41.0" stroke="#333" stroke-width="0.8"/>
<text x="35.0" y="270.1" font-family="Liberation Sans" font-size="8.3" font-weight="bold" text-anchor="end">-5x10</text>
<text x="35.3" y="266.8" font-family="Liberation Sans" font-size="5" font-weight="bold">9</text>
<path d="M38.5,281.1 H41.0" stroke="#333" stroke-width="1"/>
<path d="M39.5,288.1 H41.0" stroke="#333" stroke-width="0.8"/>
<text x="35.0" y="284.1" font-family="Liberation Sans" font-size="8.3" font-weight="bold" text-anchor="end">-6x10</text>
<text x="35.3" y="280.7" font-family="Liberation Sans" font-size="5" font-weight="bold">9</text>
<path d="M38.5,295.1 H41.0" stroke="#333" stroke-width="1"/>
<text x="35.0" y="298.1" font-family="Liberation Sans" font-size="8.3" font-weight="bold" text-anchor="end">-7x10</text>
<text x="35.3" y="294.7" font-family="Liberation Sans" font-size="5" font-weight="bold">9</text>
<path d="M41.0,301.5 V304.5" stroke="#333" stroke-width="1"/>
<path d="M57.7,301.5 V303.5" stroke="#333" stroke-width="1"/>
<path d="M74.4,301.5 V303.5" stroke="#333" stroke-width="1"/>
<path d="M91.0,301.5 V303.5" stroke="#333" stroke-width="1"/>
<path d="M107.7,301.5 V303.5" stroke="#333" stroke-width="1"/>
<path d="M124.4,301.5 V304.5" stroke="#333" stroke-width="1"/>
<path d="M141.1,301.5 V303.5" stroke="#333" stroke-width="1"/>
<path d="M157.8,301.5 V303.5" stroke="#333" stroke-width="1"/>
<path d="M174.4,301.5 V303.5" stroke="#333" stroke-width="1"/>
<path d="M191.1,301.5 V303.5" stroke="#333" stroke-width="1"/>
<path d="M207.8,301.5 V304.5" stroke="#333" stroke-width="1"/>
<text x="41.0" y="311.5" font-family="Liberation Sans" font-size="8" font-weight="bold" text-anchor="middle" >0.0</text>
<text x="124.4" y="311.5" font-family="Liberation Sans" font-size="8" font-weight="bold" text-anchor="middle" >0.1</text>
<text x="207.8" y="311.5" font-family="Liberation Sans" font-size="8" font-weight="bold" text-anchor="middle" >0.2</text>
<text transform="translate(7.5,243.7) rotate(-90)" font-family="Liberation Sans" font-size="10" font-weight="bold" text-anchor="middle">Electric field (V/m)</text>
<text x="122.5" y="322" font-family="Liberation Sans" font-size="10.4" font-weight="bold" text-anchor="middle" >position (μm)</text>
<rect x="141.7" y="239.3" width="50.7" height="37.9" fill="#fff" stroke="#c8c8c8" stroke-width="0.8"/>
<path d="M143,243.9 H161.5" stroke="#777" stroke-width="1.6"/>
<path d="M143,253.7 H161.5" stroke="#ff0000" stroke-width="1.1" stroke-dasharray="3,2.5"/>
<path d="M143,263.3 H161.5" stroke="#0000ff" stroke-width="1.2" stroke-dasharray="1.2,2"/>
<path d="M143,273.0 H161.5" stroke="#00ff00" stroke-width="1" stroke-dasharray="4,1.5,1,1.5"/>
<text x="163.9" y="247.1" font-family="Liberation Sans" font-size="9" font-weight="bold" textLength="27.2" lengthAdjust="spacingAndGlyphs">0.05 ps</text>
<text x="163.9" y="256.9" font-family="Liberation Sans" font-size="9" font-weight="bold" textLength="22.6" lengthAdjust="spacingAndGlyphs">0.2 ps</text>
<text x="163.9" y="266.5" font-family="Liberation Sans" font-size="9" font-weight="bold" textLength="22.6" lengthAdjust="spacingAndGlyphs">0.6 ps</text>
<text x="163.9" y="276.2" font-family="Liberation Sans" font-size="9" font-weight="bold" textLength="16.1" lengthAdjust="spacingAndGlyphs">1 ps</text>
<text class="s" x="225.6" y="178.8" font-family="Liberation Serif" font-size="12.8" font-weight="normal" text-anchor="middle" >(d)</text>
<path d="M245.0,297.0 L246.8,296.3 L248.7,294.5 L250.5,293.7 L252.3,291.6 L254.2,290.8 L256.0,289.8 L257.7,287.7 L259.4,286.4 L261.1,285.9 L262.9,284.2 L264.6,282.6 L266.3,281.1 L268.0,280.3 L269.8,279.8 L271.5,278.0 L273.2,276.9 L275.0,276.0 L277.5,274.8 L280.0,275.5 L282.0,273.9 L284.0,272.2 L285.3,270.6 L286.7,269.2 L288.0,266.9 L290.5,268.1 L293.0,268.6 L295.5,267.6 L298.0,266.2 L299.5,264.6 L301.0,262.5 L302.5,261.1 L304.0,259.3 L305.7,258.2 L307.3,256.8 L309.0,254.8 L310.5,256.8 L312.0,257.8 L313.2,256.0 L314.5,253.5 L315.8,252.1 L317.0,249.5 L318.5,251.1 L320.0,252.9 L321.0,251.5 L322.0,249.5 L323.0,247.3 L324.0,246.1 L326.0,244.8 L328.0,242.5 L329.0,242.4 L329.6,241.4 L330.2,238.3 L330.8,236.5 L331.4,234.2 L332.0,232.0 L334.0,230.7 L334.5,232.7 L335.0,235.8 L335.5,238.0 L336.0,240.7 L336.5,237.7 L337.0,236.1 L337.5,233.3 L338.0,231.8 L339.0,233.0 L340.0,235.7 L340.2,234.3 L340.4,231.7 L340.6,229.8 L340.8,228.2 L341.0,225.0 L341.2,222.7 L341.4,220.5 L341.6,219.4 L341.8,217.8 L342.0,214.6 L342.3,217.0 L342.7,218.9 L343.0,221.0 L343.3,223.5 L343.7,225.6 L344.0,227.1 L344.4,225.0 L344.8,223.7 L345.2,220.9 L345.6,218.7 L346.0,217.0 L346.7,219.3 L347.3,220.6 L348.0,223.4 L348.3,225.1 L348.7,227.0 L349.0,230.3 L349.1,228.5 L349.2,226.4 L349.3,224.4 L349.4,220.8 L349.6,220.2 L349.7,218.0 L349.8,215.8 L349.9,212.3 L350.0,211.3 L352.0,210.5 L352.8,209.6 L353.5,206.6 L354.2,204.3 L355.0,203.1 L355.1,205.4 L355.2,207.2 L355.2,209.0 L355.3,210.5 L355.4,213.6 L355.5,214.5 L355.6,217.5 L355.7,218.8 L355.8,221.4 L355.8,223.7 L355.9,225.2 L356.0,228.1 L356.1,229.3 L356.2,232.4 L356.2,233.7 L356.3,236.2 L356.4,237.9 L356.5,239.7 L356.6,241.4 L356.7,244.2 L356.7,245.4 L356.8,248.1 L356.9,250.0 L357.0,251.9 L357.0,253.8 L357.1,256.3 L357.2,258.9 L357.3,260.8 L357.3,262.1 L357.4,264.6 L357.5,266.7 L357.6,268.8 L357.6,270.7 L357.7,271.9 L357.8,274.0 L357.9,277.1 L357.9,278.3 L358.0,280.8 L358.1,282.0 L358.2,284.9 L358.2,286.5 L358.3,288.1 L358.4,290.1 L358.5,292.5 L358.5,295.0 L358.6,297.4 L358.7,298.2 L358.7,297.0 L358.8,294.7 L358.8,293.2 L358.8,291.3 L358.9,288.3 L358.9,286.6 L358.9,285.6 L359.0,283.3 L359.0,280.5 L359.0,279.1 L359.0,276.8 L359.1,274.4 L359.1,272.9 L359.1,271.0 L359.2,269.3 L359.2,267.6 L359.2,264.6 L359.3,263.8 L359.3,260.8 L359.3,259.2 L359.4,256.8 L359.4,254.9 L359.4,253.3 L359.5,251.4 L359.5,248.3 L359.5,246.2 L359.6,244.8 L359.6,242.7 L359.6,240.9 L359.7,239.7 L359.7,236.7 L359.7,234.6 L359.7,232.9 L359.8,230.7 L359.8,228.9 L359.8,227.0 L359.9,224.4 L359.9,223.4 L359.9,221.2 L360.0,219.4 L360.0,216.9 L361.5,215.0 L363.0,214.4 L364.0,212.6 L364.2,210.6 L364.4,208.4 L364.6,205.4 L364.8,203.7 L365.0,202.3 L365.2,199.3 L365.4,197.7 L365.6,195.8 L365.8,194.5 L366.0,191.2 L367.0,191.2 L367.2,193.9 L367.5,194.9 L367.8,197.4 L368.0,200.2 L368.2,201.8 L368.5,204.3 L368.8,205.5 L369.0,208.3 L369.0,209.5 L369.1,212.3 L369.1,214.5 L369.2,215.4 L369.2,217.8 L369.2,219.9 L369.3,222.8 L369.3,223.5 L369.3,226.1 L369.4,229.0 L369.4,229.6 L369.5,233.0 L369.5,233.6 L369.5,236.4 L369.6,238.3 L369.6,240.6 L369.6,242.0 L369.7,244.4 L369.7,247.0 L369.8,247.9 L369.8,251.1 L369.8,251.8 L369.9,254.0 L369.9,256.1 L369.9,258.6 L370.0,260.3 L370.0,262.6 L370.1,263.9 L370.1,266.3 L370.1,267.9 L370.2,270.1 L370.2,273.0 L370.2,274.8 L370.3,276.7 L370.3,278.0 L370.4,281.2 L370.4,282.2 L370.4,285.2 L370.5,286.7 L370.5,289.5 L370.5,290.3 L370.6,292.7 L370.6,294.2 L370.7,297.7 L370.7,299.2 L372.8,298.7 L374.8,298.5 L376.9,299.6 L379.0,298.8 L381.0,298.4 L383.1,298.9 L385.2,298.8 L387.2,299.5 L389.3,298.3 L391.4,299.4 L393.4,299.6 L395.5,298.3 L397.5,299.3 L399.6,299.4 L401.7,299.4 L403.7,299.6 L405.8,298.9 L407.9,299.2 L409.9,299.1 L412.0,299.0" fill="none" stroke="#000000" stroke-width="1.1" stroke-linejoin="round" opacity="1.0"/>
<path d="M245.0,297.0 L246.6,295.6 L248.3,293.7 L249.9,293.5 L251.6,292.2 L253.2,290.6 L254.9,290.3 L256.5,289.4 L258.1,287.3 L259.8,285.8 L261.4,284.9 L263.1,284.2 L264.7,282.0 L266.4,282.0 L268.0,280.4 L270.0,279.7 L272.0,278.6 L274.0,276.5 L276.0,277.0 L278.0,276.7 L280.0,275.4 L282.0,275.3 L284.0,273.1 L286.0,273.4 L288.0,273.5 L290.0,273.6 L292.0,271.0 L294.0,270.3 L296.0,269.4 L298.0,268.4 L300.0,268.4 L302.0,268.8 L304.0,271.0 L306.0,271.4 L308.0,272.5 L310.0,271.7 L312.0,270.4 L314.0,267.1 L316.0,266.8 L318.2,266.6 L320.5,266.0 L322.8,265.7 L325.0,263.3 L327.0,264.7 L329.0,266.3 L331.0,265.2 L333.0,267.9 L334.0,267.1 L335.0,264.7 L336.0,262.6 L337.0,261.7 L339.0,263.3 L341.0,264.3 L343.0,265.9 L345.0,265.5 L347.0,264.5 L349.0,265.0 L351.0,261.9 L353.0,263.2 L355.0,262.1 L357.0,263.6 L359.0,262.6 L361.0,264.8 L363.0,264.0 L365.0,266.0 L367.0,264.9 L369.0,264.8 L371.0,263.1 L373.0,263.8 L375.0,263.4 L377.0,261.5 L379.0,260.6 L381.0,259.3 L383.0,258.8 L385.0,260.5 L387.0,261.4 L389.0,262.0 L390.3,259.0 L391.7,258.3 L393.0,257.1 L395.0,256.6 L397.0,257.8 L399.0,259.3 L400.5,257.0 L402.0,256.0 L403.5,257.3 L405.0,260.9 L407.0,258.9 L409.0,256.9 L412.0,257.0" fill="none" stroke="#ff0000" stroke-width="1.3" stroke-dasharray="3.5,2.5" stroke-linejoin="round" opacity="1.0"/>
<path d="M245.0,297.0 L258.0,285.0 L270.0,274.0 L280.0,268.0 L290.0,263.0 L304.0,258.0 L316.0,259.0 L325.0,258.0 L337.0,259.0 L349.0,262.0 L365.0,263.0 L377.0,264.7 L389.0,266.0 L401.0,267.7 L412.0,269.7" fill="none" stroke="#0000ff" stroke-width="1.4" stroke-dasharray="1.3,2" stroke-linejoin="round" opacity="1.0"/>
<path d="M245.0,297.0 L245.5,295.1 L246.1,292.9 L246.6,291.3 L247.2,288.8 L247.7,287.1 L248.2,284.3 L248.8,283.1 L249.3,281.1 L249.8,278.5 L250.4,276.5 L250.9,274.9 L251.5,273.6 L252.0,271.8 L252.8,269.3 L253.5,266.7 L254.2,264.7 L255.0,263.7 L255.8,260.6 L256.5,259.2 L257.2,257.4 L258.0,254.7 L259.3,253.7 L260.7,250.6 L262.0,249.8 L263.0,247.3 L264.0,245.0 L265.0,243.1 L266.0,241.6 L267.0,239.6 L268.0,236.3 L270.0,238.7 L272.0,240.2 L273.0,242.9 L274.0,245.3 L275.0,246.8 L276.0,249.1 L276.7,250.5 L277.3,252.5 L278.0,254.7 L278.7,256.6 L279.3,259.3 L280.0,261.4 L281.0,262.9 L282.0,266.0 L283.0,267.5 L284.0,270.5 L286.0,271.0 L288.0,271.3 L290.0,272.4 L292.0,272.7 L294.0,272.0 L296.0,273.2 L298.0,272.5 L300.0,272.3 L302.0,274.8 L304.0,275.8 L306.0,276.3 L308.0,275.5 L310.0,275.7 L312.0,277.2 L314.0,277.3 L316.0,277.9 L318.0,278.4 L320.0,278.2 L322.5,277.0 L325.0,274.8 L327.0,275.5 L329.0,276.4 L331.0,276.5 L333.0,277.6 L335.0,278.6 L337.0,277.3 L339.0,277.4 L341.0,276.6 L343.0,275.2 L345.0,274.3 L347.0,274.3 L349.0,274.3 L351.0,273.8 L353.0,274.6 L355.0,276.9 L357.0,277.7 L359.0,277.3 L361.0,276.4 L363.0,276.8 L365.0,275.6 L366.7,274.2 L368.3,274.0 L370.0,271.7 L372.3,273.5 L374.7,273.3 L377.0,275.0 L379.0,275.0 L381.0,274.8 L383.0,274.2 L385.0,273.5 L387.0,273.1 L389.0,272.6 L391.0,270.7 L393.0,269.9 L394.8,268.8 L396.5,266.8 L398.2,265.7 L400.0,263.9 L401.7,264.8 L403.3,266.6 L405.0,267.3 L407.3,266.3 L409.7,265.9 L412.0,265.0" fill="none" stroke="#00ff00" stroke-width="1.3" stroke-dasharray="4,1.5,1,1.5" stroke-linejoin="round" opacity="1.0"/>
<path d="M245.4,181.3 H412.5 V299.0" fill="none" stroke="#8a8a8a" stroke-width="1"/>
<path d="M245.4,181.3 V299.0 H412.5" fill="none" stroke="#333" stroke-width="1.3"/>
<path d="M242.9,299.0 H245.4" stroke="#333" stroke-width="1"/>
<path d="M243.9,292.1 H245.4" stroke="#333" stroke-width="0.8"/>
<text x="241.8" y="302.1" font-family="Liberation Sans" font-size="8.7" font-weight="bold" text-anchor="end">0</text>
<path d="M242.9,285.1 H245.4" stroke="#333" stroke-width="1"/>
<path d="M243.9,278.2 H245.4" stroke="#333" stroke-width="0.8"/>
<text x="241.8" y="288.2" font-family="Liberation Sans" font-size="8.7" font-weight="bold" text-anchor="end">10</text>
<path d="M242.9,271.2 H245.4" stroke="#333" stroke-width="1"/>
<path d="M243.9,264.3 H245.4" stroke="#333" stroke-width="0.8"/>
<text x="241.8" y="274.3" font-family="Liberation Sans" font-size="8.7" font-weight="bold" text-anchor="end">20</text>
<path d="M242.9,257.4 H245.4" stroke="#333" stroke-width="1"/>
<path d="M243.9,250.4 H245.4" stroke="#333" stroke-width="0.8"/>
<text x="241.8" y="260.5" font-family="Liberation Sans" font-size="8.7" font-weight="bold" text-anchor="end">30</text>
<path d="M242.9,243.5 H245.4" stroke="#333" stroke-width="1"/>
<path d="M243.9,236.5 H245.4" stroke="#333" stroke-width="0.8"/>
<text x="241.8" y="246.6" font-family="Liberation Sans" font-size="8.7" font-weight="bold" text-anchor="end">40</text>
<path d="M242.9,229.6 H245.4" stroke="#333" stroke-width="1"/>
<path d="M243.9,222.7 H245.4" stroke="#333" stroke-width="0.8"/>
<text x="241.8" y="232.7" font-family="Liberation Sans" font-size="8.7" font-weight="bold" text-anchor="end">50</text>
<path d="M242.9,215.7 H245.4" stroke="#333" stroke-width="1"/>
<path d="M243.9,208.8 H245.4" stroke="#333" stroke-width="0.8"/>
<text x="241.8" y="218.8" font-family="Liberation Sans" font-size="8.7" font-weight="bold" text-anchor="end">60</text>
<path d="M242.9,201.8 H245.4" stroke="#333" stroke-width="1"/>
<path d="M243.9,194.9 H245.4" stroke="#333" stroke-width="0.8"/>
<text x="241.8" y="204.9" font-family="Liberation Sans" font-size="8.7" font-weight="bold" text-anchor="end">70</text>
<path d="M242.9,188.0 H245.4" stroke="#333" stroke-width="1"/>
<text x="241.8" y="191.1" font-family="Liberation Sans" font-size="8.7" font-weight="bold" text-anchor="end">80</text>
<path d="M245.4,299.0 V302.0" stroke="#333" stroke-width="1"/>
<path d="M262.1,299.0 V301.0" stroke="#333" stroke-width="1"/>
<path d="M278.8,299.0 V301.0" stroke="#333" stroke-width="1"/>
<path d="M295.5,299.0 V301.0" stroke="#333" stroke-width="1"/>
<path d="M312.2,299.0 V301.0" stroke="#333" stroke-width="1"/>
<path d="M328.9,299.0 V302.0" stroke="#333" stroke-width="1"/>
<path d="M345.7,299.0 V301.0" stroke="#333" stroke-width="1"/>
<path d="M362.4,299.0 V301.0" stroke="#333" stroke-width="1"/>
<path d="M379.1,299.0 V301.0" stroke="#333" stroke-width="1"/>
<path d="M395.8,299.0 V301.0" stroke="#333" stroke-width="1"/>
<path d="M412.5,299.0 V302.0" stroke="#333" stroke-width="1"/>
<text x="245.4" y="309" font-family="Liberation Sans" font-size="8" font-weight="bold" text-anchor="middle" >0.0</text>
<text x="328.9" y="309" font-family="Liberation Sans" font-size="8" font-weight="bold" text-anchor="middle" >0.1</text>
<text x="412.5" y="309" font-family="Liberation Sans" font-size="8" font-weight="bold" text-anchor="middle" >0.2</text>
<text transform="translate(228.2,247.2) rotate(-90)" font-family="Liberation Sans" font-size="10" font-weight="bold" text-anchor="middle">Electron temperature (eV)</text>
<text x="321.2" y="321.5" font-family="Liberation Sans" font-size="10.4" font-weight="bold" text-anchor="middle" >position (μm)</text>
<rect x="245.6" y="181.4" width="50.4" height="38.1" fill="#fff" stroke="#c8c8c8" stroke-width="0.8"/>
<path d="M247,187.4 H266" stroke="#000" stroke-width="1.3"/>
<path d="M247,196.6 H266" stroke="#ff0000" stroke-width="1.3" stroke-dasharray="3.5,2.5"/>
<path d="M247,206.2 H266" stroke="#0000ff" stroke-width="1.4" stroke-dasharray="1.3,2"/>
<path d="M247,216.0 H266" stroke="#00ff00" stroke-width="1.3" stroke-dasharray="4,1.5,1,1.5"/>
<text x="268" y="190.6" font-family="Liberation Sans" font-size="9" font-weight="bold" textLength="27.5" lengthAdjust="spacingAndGlyphs">0.05 ps</text>
<text x="268" y="199.8" font-family="Liberation Sans" font-size="9" font-weight="bold" textLength="22.8" lengthAdjust="spacingAndGlyphs">0.2 ps</text>
<text x="268" y="209.4" font-family="Liberation Sans" font-size="9" font-weight="bold" textLength="22.8" lengthAdjust="spacingAndGlyphs">0.6 ps</text>
<text x="268" y="219.2" font-family="Liberation Sans" font-size="9" font-weight="bold" textLength="16.2" lengthAdjust="spacingAndGlyphs">1 ps</text>
<text class="s" x="430.5" y="179.2" font-family="Liberation Serif" font-size="12.8" font-weight="normal" text-anchor="middle" >(e)</text>
<path d="M457.5,296.0 L459.8,295.3 L462.0,297.0 L462.2,293.3 L462.4,292.1 L462.5,288.3 L462.7,287.7 L462.9,283.8 L463.1,283.2 L463.3,279.0 L463.5,278.4 L463.6,274.8 L463.8,273.8 L464.0,270.1 L464.5,269.3 L465.0,264.9 L465.5,264.0 L466.0,260.2 L466.2,259.3 L466.4,255.6 L466.5,255.0 L466.7,251.0 L466.9,249.7 L467.1,246.1 L467.3,245.1 L467.5,241.1 L467.6,240.6 L467.8,236.7 L468.0,236.0 L468.3,232.2 L468.7,231.0 L469.0,227.8 L469.3,226.9 L469.7,222.9 L470.0,222.6 L470.3,218.9 L470.7,217.9 L471.0,214.0 L471.4,213.6 L471.8,209.6 L472.1,208.8 L472.5,205.0 L472.9,204.3 L473.2,201.0 L473.6,200.0 L474.0,196.1 L474.7,195.7 L475.3,192.0 L476.0,191.2 L476.7,192.3 L477.3,196.3 L478.0,197.6 L480.0,195.6 L480.2,196.6 L480.4,200.6 L480.7,200.9 L480.9,205.4 L481.1,205.9 L481.3,209.7 L481.6,210.3 L481.8,214.6 L482.0,214.9 L483.0,218.6 L484.0,218.9 L484.3,223.5 L484.7,224.5 L485.0,228.6 L488.0,226.0 L488.5,230.0 L489.0,231.1 L489.5,235.6 L490.0,236.0 L491.0,240.6 L492.0,241.4 L493.0,246.0 L494.3,246.2 L495.7,250.6 L497.0,250.9 L499.0,253.6 L501.0,253.4 L503.0,255.6 L507.0,255.2 L509.0,258.6 L511.0,259.0 L513.7,260.7 L516.3,258.7 L519.0,259.6 L521.7,258.8 L524.3,260.2 L527.0,259.4 L529.7,260.6 L532.3,259.1 L535.0,260.5 L537.5,259.7 L540.0,262.0 L542.3,260.5 L544.5,262.0 L546.8,260.7 L549.1,262.4 L551.4,260.7 L553.6,262.2 L555.9,260.6 L558.2,262.5 L560.5,261.1 L562.7,262.5 L565.0,261.5 L567.2,262.7 L569.5,261.6 L571.7,263.1 L573.9,261.1 L576.1,263.2 L578.4,261.5 L580.6,263.0 L582.8,261.7 L585.0,262.9 L587.3,261.8 L589.5,263.1 L591.8,261.8 L594.1,263.1 L596.4,261.8 L598.7,263.4 L601.0,262.1 L603.3,263.5 L605.6,261.7 L607.9,263.7 L610.2,262.0 L612.5,263.4 L614.8,262.0 L617.1,263.5 L619.4,261.9 L621.7,263.6 L624.0,263.0" fill="none" stroke="#00ff00" stroke-width="1" stroke-dasharray="4,1.5,1,1.5" stroke-linejoin="round" opacity="1.0"/>
<path d="M466.0,296.0 L469.5,295.6 L473.0,296.4 L473.3,293.1 L473.7,290.7 L474.0,288.8 L474.3,285.8 L474.7,283.4 L475.0,281.6 L475.2,278.9 L475.3,276.5 L475.5,273.2 L475.6,270.4 L475.8,268.0 L475.9,265.2 L476.1,263.3 L476.2,259.7 L476.4,257.9 L476.5,255.2 L476.7,251.9 L476.8,250.0 L477.0,247.3 L477.3,250.1 L477.7,252.4 L478.0,254.5 L478.3,257.6 L478.7,261.0 L479.0,263.6 L479.6,259.9 L480.2,257.6 L480.8,253.9 L481.4,252.1 L482.0,249.1 L484.5,248.3 L487.0,247.7 L489.7,247.1 L492.3,247.0 L495.0,246.9 L498.0,247.4 L501.0,247.5 L504.0,246.3 L507.0,243.3 L509.7,244.6 L512.3,245.7 L515.0,246.5 L517.5,247.9 L520.0,248.6 L522.5,248.5 L525.0,248.8 L527.5,249.2 L530.0,248.9 L532.5,248.5 L535.0,248.6 L537.5,248.9 L540.0,251.1 L543.0,250.7 L546.0,251.7 L549.0,250.4 L552.0,251.5 L554.6,251.8 L557.2,250.8 L559.8,252.1 L562.4,251.8 L565.0,252.6 L567.7,252.2 L570.4,253.2 L573.2,252.6 L575.9,252.7 L578.6,253.6 L581.3,254.4 L584.1,253.7 L586.8,254.6 L589.5,254.3 L592.2,254.7 L594.9,255.3 L597.7,255.8 L600.4,255.7 L603.1,256.5 L605.8,256.4 L608.6,255.8 L611.3,256.9 L614.0,256.3 L616.5,256.9 L619.0,257.5 L621.5,257.6 L624.0,258.0" fill="none" stroke="#4444ff" stroke-width="1.2" stroke-dasharray="1.2,2.6" stroke-linejoin="round" opacity="1.0"/>
<path d="M470.0,296.0 L472.7,295.0 L475.3,296.8 L478.0,294.9 L478.2,294.6 L478.4,290.5 L478.5,290.1 L478.7,286.1 L478.9,285.5 L479.1,281.9 L479.3,280.7 L479.5,277.1 L479.6,276.2 L479.8,272.7 L480.0,272.0 L481.0,268.2 L482.0,267.6 L483.0,264.0 L483.8,263.1 L484.5,259.3 L485.2,258.1 L486.0,254.0 L487.5,258.3 L489.0,259.5 L492.0,261.0 L495.0,259.4 L497.5,260.4 L500.0,258.9 L502.5,260.2 L505.0,258.1 L507.5,259.7 L510.0,257.8 L512.5,259.8 L515.0,258.4 L517.2,259.1 L519.5,256.2 L521.8,256.8 L524.0,254.1 L526.2,256.6 L528.4,255.8 L530.6,257.9 L532.8,257.1 L535.0,259.9 L537.5,257.5 L540.0,258.5 L542.3,257.3 L544.5,259.0 L546.8,257.6 L549.1,259.6 L551.4,258.1 L553.6,259.9 L555.9,258.0 L558.2,259.7 L560.5,258.2 L562.7,260.4 L565.0,258.9 L567.5,260.8 L570.0,259.2 L572.5,260.7 L575.0,258.8 L577.5,260.9 L580.0,258.9 L582.2,263.1 L584.5,263.4 L586.8,262.8 L589.0,258.9 L591.3,260.7 L593.7,259.2 L596.0,261.4 L598.3,259.4 L600.7,261.4 L603.0,259.4 L605.3,261.6 L607.7,260.1 L610.0,261.4 L612.3,259.7 L614.7,261.7 L617.0,259.6 L619.3,261.5 L621.7,260.1 L624.0,261.0" fill="none" stroke="#ff0000" stroke-width="1.1" stroke-dasharray="3,2.5" stroke-linejoin="round" opacity="1.0"/>
<path d="M472.0,296.0 L478.8,296.0 L479.2,240.0 L479.8,235.0 L481.2,235.0 L481.8,240.0 L482.6,291.0 L483.1,283.0 L485.2,262.0 L487.0,275.4 L489.7,254.4 L492.3,267.5 L495.0,251.7 L496.2,264.9 L498.9,258.3 L501.5,267.5 L504.1,253.0 L506.7,262.0 L508.8,276.7 L512.0,254.4 L514.6,261.0 L517.2,255.7 L519.9,282.0 L522.5,257.0 L525.1,253.0 L527.7,267.5 L529.8,275.4 L533.0,254.4 L535.6,270.0 L538.2,249.0 L540.2,243.0 L540.9,226.8 L541.6,243.0 L543.5,251.7 L546.1,243.9 L548.7,270.0 L550.0,272.0 L552.4,296.0 L556.0,296.0 L558.5,231.0 L561.0,296.0 L564.7,296.0 L567.7,260.8 L571.0,296.0 L574.0,296.0" fill="none" stroke="#000000" stroke-width="0.9" stroke-linejoin="round" opacity="1.0"/>
<path d="M457.5,178.3 H624.7 V296.2" fill="none" stroke="#8a8a8a" stroke-width="1"/>
<path d="M457.5,178.3 V296.2 H624.7" fill="none" stroke="#333" stroke-width="1.3"/>
<path d="M455.0,296.2 H457.5" stroke="#333" stroke-width="1"/>
<path d="M456.0,287.2 H457.5" stroke="#333" stroke-width="0.8"/>
<text x="455" y="298.7" font-family="Liberation Sans" font-size="8.5" font-weight="bold" text-anchor="end">0.00</text>
<path d="M455.0,278.1 H457.5" stroke="#333" stroke-width="1"/>
<path d="M456.0,269.1 H457.5" stroke="#333" stroke-width="0.8"/>
<text x="455" y="280.6" font-family="Liberation Sans" font-size="8.5" font-weight="bold" text-anchor="end">0.02</text>
<path d="M455.0,260.0 H457.5" stroke="#333" stroke-width="1"/>
<path d="M456.0,251.0 H457.5" stroke="#333" stroke-width="0.8"/>
<text x="455" y="262.5" font-family="Liberation Sans" font-size="8.5" font-weight="bold" text-anchor="end">0.04</text>
<path d="M455.0,242.0 H457.5" stroke="#333" stroke-width="1"/>
<path d="M456.0,232.9 H457.5" stroke="#333" stroke-width="0.8"/>
<text x="455" y="244.5" font-family="Liberation Sans" font-size="8.5" font-weight="bold" text-anchor="end">0.06</text>
<path d="M455.0,223.9 H457.5" stroke="#333" stroke-width="1"/>
<path d="M456.0,214.8 H457.5" stroke="#333" stroke-width="0.8"/>
<text x="455" y="226.4" font-family="Liberation Sans" font-size="8.5" font-weight="bold" text-anchor="end">0.08</text>
<path d="M455.0,205.8 H457.5" stroke="#333" stroke-width="1"/>
<path d="M456.0,196.8 H457.5" stroke="#333" stroke-width="0.8"/>
<text x="455" y="208.3" font-family="Liberation Sans" font-size="8.5" font-weight="bold" text-anchor="end">0.10</text>
<path d="M455.0,187.7 H457.5" stroke="#333" stroke-width="1"/>
<path d="M456.0,178.7 H457.5" stroke="#333" stroke-width="0.8"/>
<text x="455" y="190.2" font-family="Liberation Sans" font-size="8.5" font-weight="bold" text-anchor="end">0.12</text>
<path d="M457.5,296.2 V299.2" stroke="#333" stroke-width="1"/>
<path d="M474.2,296.2 V298.2" stroke="#333" stroke-width="1"/>
<path d="M490.9,296.2 V298.2" stroke="#333" stroke-width="1"/>
<path d="M507.7,296.2 V298.2" stroke="#333" stroke-width="1"/>
<path d="M524.4,296.2 V298.2" stroke="#333" stroke-width="1"/>
<path d="M541.1,296.2 V299.2" stroke="#333" stroke-width="1"/>
<path d="M557.8,296.2 V298.2" stroke="#333" stroke-width="1"/>
<path d="M574.5,296.2 V298.2" stroke="#333" stroke-width="1"/>
<path d="M591.3,296.2 V298.2" stroke="#333" stroke-width="1"/>
<path d="M608.0,296.2 V298.2" stroke="#333" stroke-width="1"/>
<path d="M624.7,296.2 V299.2" stroke="#333" stroke-width="1"/>
<text x="457.5" y="307" font-family="Liberation Sans" font-size="8" font-weight="bold" text-anchor="middle" >0.0</text>
<text x="541.1" y="307" font-family="Liberation Sans" font-size="8" font-weight="bold" text-anchor="middle" >0.1</text>
<text x="624.7" y="307" font-family="Liberation Sans" font-size="8" font-weight="bold" text-anchor="middle" >0.2</text>
<text transform="translate(432.8,241) rotate(-90)" font-family="Liberation Sans" font-size="10" font-weight="bold" text-anchor="middle">Ion temperature (eV)</text>
<text x="543.8" y="318.5" font-family="Liberation Sans" font-size="10.4" font-weight="bold" text-anchor="middle" >position (μm)</text>
<rect x="571.5" y="181.5" width="49.6" height="37.5" fill="#fff" stroke="#c8c8c8" stroke-width="0.8"/>
<path d="M572.6,186.1 H591" stroke="#777" stroke-width="1.6"/>
<path d="M572.6,195.4 H591" stroke="#ff0000" stroke-width="1.1" stroke-dasharray="3,2.5"/>
<path d="M572.6,204.8 H591" stroke="#0000ff" stroke-width="1.2" stroke-dasharray="1.2,2"/>
<path d="M572.6,214.4 H591" stroke="#00ff00" stroke-width="1" stroke-dasharray="4,1.5,1,1.5"/>
<text x="593.3" y="189.3" font-family="Liberation Sans" font-size="9" font-weight="bold" textLength="27.4" lengthAdjust="spacingAndGlyphs">0.05 ps</text>
<text x="593.3" y="198.6" font-family="Liberation Sans" font-size="9" font-weight="bold" textLength="22.5" lengthAdjust="spacingAndGlyphs">0.2 ps</text>
<text x="593.3" y="208.0" font-family="Liberation Sans" font-size="9" font-weight="bold" textLength="22.5" lengthAdjust="spacingAndGlyphs">0.6 ps</text>
<text x="593.3" y="217.6" font-family="Liberation Sans" font-size="9" font-weight="bold" textLength="15.5" lengthAdjust="spacingAndGlyphs">1 ps</text>
</svg>
</body></html>
